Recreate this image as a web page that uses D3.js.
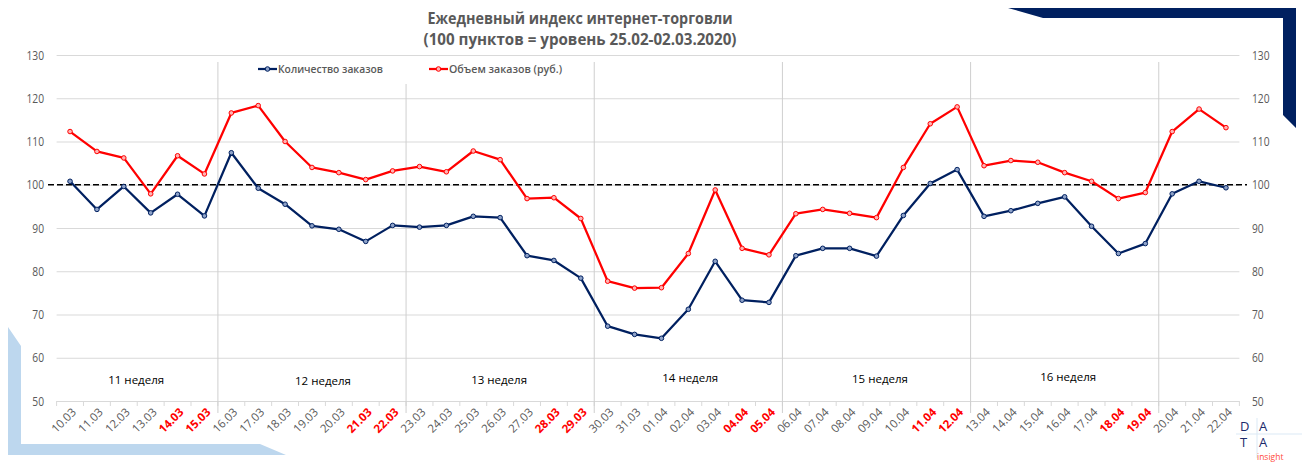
<!DOCTYPE html>
<html><head><meta charset="utf-8">
<script src="https://cdn.jsdelivr.net/npm/d3@7"></script>
<style>
body{margin:0;background:#fff}
svg text{font-family:'Open Sans','Noto Sans',sans-serif}
</style>
</head><body>
<svg id="c" width="1302" height="465"></svg>
<script>
// ---------- data ----------
const dates = ["10.03","11.03","12.03","13.03","14.03","15.03","16.03","17.03","18.03","19.03","20.03",
  "21.03","22.03","23.03","24.03","25.03","26.03","27.03","28.03","29.03","30.03","31.03",
  "01.04","02.04","03.04","04.04","05.04","06.04","07.04","08.04","09.04","10.04","11.04",
  "12.04","13.04","14.04","15.04","16.04","17.04","18.04","19.04","20.04","21.04","22.04"];
const orders = [100.8,94.3,99.6,93.5,97.8,92.8,107.4,99.2,95.5,90.5,89.7,86.9,90.6,90.2,90.6,
  92.7,92.4,83.6,82.5,78.4,67.3,65.4,64.5,71.2,82.3,73.3,72.8,83.6,85.3,85.3,
  83.5,92.9,100.3,103.5,92.7,94.0,95.7,97.2,90.4,84.1,86.4,97.9,100.8,99.3];
const volume = [112.3,107.7,106.2,97.9,106.7,102.5,116.6,118.3,110.0,104.0,102.8,101.2,103.2,104.2,103.0,
  107.8,105.8,96.8,97.0,92.2,77.7,76.1,76.2,84.1,98.8,85.3,83.8,93.3,94.3,93.4,
  92.4,104.0,114.1,118.0,104.4,105.6,105.2,102.8,100.8,96.8,98.2,112.3,117.5,113.2];
const yTicks = [50,60,70,80,90,100,110,120,130];
const weekendDates = ["14.03","15.03","21.03","22.03","28.03","29.03","04.04","05.04","11.04","12.04","18.04","19.04"];
const weekStartDates = ["16.03","23.03","30.03","06.04","13.04","20.04"];
const weekLabels = ["11 неделя","12 неделя","13 неделя","14 неделя","15 неделя","16 неделя"];
const weekLabelAt = [2.46, 9.41, 15.96, 23.07, 30.13, 37.13];   // position along the day axis
const weekLabelLevel = [54.8, 54.6, 54.8, 55.3, 55.0, 55.5];     // position on the value axis
const baselineValue = 100;
const titleLines = ["Ежедневный индекс интернет-торговли","(100 пунктов = уровень 25.02-02.03.2020)"];
const seriesNames = ["Количество заказов","Объем заказов (руб.)"];

// ---------- setup ----------
const svg = d3.select("#c");
const plot = {left:56.6, right:1239.4, top:55, bottom:401};
const x = d3.scaleBand().domain(dates).range([plot.left, plot.right]).paddingInner(0).paddingOuter(0);
const bw = x.bandwidth();
const xc = d => x(d) + bw/2;
const xi = d3.scaleLinear().domain([0, dates.length-1]).range([xc(dates[0]), xc(dates[dates.length-1])]);
const y = d3.scaleLinear().domain([50,130]).range([plot.bottom, plot.top]);
const GRAY = "#595959", NAVY = "#002060", RED = "#ff0000", GRID = "#d9d9d9";

function condense(sel, f){ sel.each(function(){ const L=this.getComputedTextLength(); d3.select(this).attr("textLength", L*f).attr("lengthAdjust","spacingAndGlyphs"); }); }

// decorations
svg.append("polygon").attr("points","1008,8 1296,8 1296,128 1283,115 1283,18 1043,18").attr("fill","#002060");
svg.append("polygon").attr("points","8,327 21,346 21,444 260,444 286,455 8,455").attr("fill","#bdd7ee");

// horizontal gridlines
svg.append("g").attr("transform",`translate(${plot.left},0)`)
  .call(d3.axisLeft(y).tickValues(yTicks).tickSize(-(plot.right-plot.left)).tickFormat(""))
  .call(g=>g.select(".domain").remove())
  .call(g=>g.selectAll("line").attr("stroke",GRID).attr("stroke-width",1));

// bottom boundary tick marks
const bounds = d3.range(dates.length+1).map(i => plot.left + i*bw);
svg.append("g").selectAll("line").data(bounds).join("line")
  .attr("x1",d=>d).attr("x2",d=>d).attr("y1",plot.bottom).attr("y2",plot.bottom+5)
  .attr("stroke",GRID);

// week separators
svg.append("g").selectAll("line").data(weekStartDates).join("line")
  .attr("x1",d=>x(d)).attr("x2",d=>x(d)).attr("y1",62).attr("y2",plot.bottom+12)
  .attr("stroke","#cfcfcf").attr("stroke-width",1);

// y axis labels
const yl = svg.append("g").attr("transform",`translate(${plot.left},0)`)
  .call(d3.axisLeft(y).tickValues(yTicks).tickSize(0).tickPadding(12.6))
  .call(g=>g.select(".domain").remove());
yl.selectAll("text").attr("fill",GRAY).attr("font-size",12.5).attr("font-family","'Open Sans',sans-serif");
condense(yl.selectAll("text"),0.82);
const yr = svg.append("g").attr("transform",`translate(${plot.right},0)`)
  .call(d3.axisRight(y).tickValues(yTicks).tickSize(0).tickPadding(12.6))
  .call(g=>g.select(".domain").remove());
yr.selectAll("text").attr("fill",GRAY).attr("font-size",12.5).attr("font-family","'Open Sans',sans-serif");
condense(yr.selectAll("text"),0.82);

// x labels
const xa = svg.append("g").attr("transform",`translate(0,${plot.bottom})`)
  .call(d3.axisBottom(x).tickSize(0).tickPadding(0))
  .call(g=>g.select(".domain").remove());
xa.selectAll(".tick text")
  .attr("font-family","'Open Sans',sans-serif")
  .attr("font-size",11.5)
  .attr("text-anchor","end")
  .attr("dy","0.35em")
  .attr("transform","translate(4,9) rotate(-45)")
  .attr("fill",d=>weekendDates.includes(d)?RED:GRAY)
  .attr("font-weight",d=>weekendDates.includes(d)?"bold":"normal");

// baseline 100
svg.append("line").attr("x1",48).attr("x2",1247).attr("y1",y(baselineValue)).attr("y2",y(baselineValue))
  .attr("stroke","#000").attr("stroke-width",1.3).attr("stroke-dasharray","6,3");

// week labels
svg.append("g").selectAll("text").data(weekLabels).join("text")
  .attr("x",(d,i)=>xi(weekLabelAt[i])).attr("y",(d,i)=>y(weekLabelLevel[i]))
  .attr("dy","0.35em").attr("text-anchor","middle").attr("font-size",11.5).attr("fill","#000").text(d=>d);

// series
const series = [{name:seriesNames[0], values:orders, color:NAVY},{name:seriesNames[1], values:volume, color:RED}];
const line = d3.line().x((v,i)=>xc(dates[i])).y(v=>y(v));
series.forEach(s=>{
  svg.append("path").datum(s.values).attr("d",line).attr("fill","none")
    .attr("stroke",s.color).attr("stroke-width",2.25).attr("stroke-linejoin","round");
  svg.append("g").selectAll("circle").data(s.values).join("circle")
    .attr("cx",(v,i)=>xc(dates[i])).attr("cy",v=>y(v)).attr("r",2.3)
    .attr("fill", s.color===RED ? "#ffb3b3" : "#8ea2c8").attr("stroke",s.color).attr("stroke-width",1);
});

// legend
const lg = svg.append("g");
lg.append("rect").attr("x",250).attr("y",60).attr("width",328).attr("height",24).attr("fill","#fff");
const legendX = [258, 429], legendW = [105, 113];
series.forEach((s,i)=>{
  const g = lg.append("g").attr("transform",`translate(${legendX[i]},69)`);
  g.append("line").attr("x1",0).attr("x2",19).attr("stroke",s.color).attr("stroke-width",2.25);
  g.append("circle").attr("cx",9.5).attr("r",2.3).attr("fill", s.color===RED ? "#ffb3b3" : "#8ea2c8").attr("stroke",s.color);
  g.append("text").attr("x",20).attr("dy","0.35em").attr("font-size",11).attr("font-weight",600)
    .attr("fill",GRAY).text(s.name).attr("textLength",legendW[i]).attr("lengthAdjust","spacingAndGlyphs");
});

// title
const titleW = [305, 313], titleY = [24, 45];
svg.append("g").selectAll("text").data(titleLines).join("text")
  .attr("x",580).attr("y",(d,i)=>titleY[i]).attr("text-anchor","middle")
  .attr("font-size",16.5).attr("font-weight","bold").attr("fill",GRAY)
  .attr("textLength",(d,i)=>titleW[i]).attr("lengthAdjust","spacingAndGlyphs").text(d=>d);

// logo
const logo = svg.append("g");
logo.append("line").attr("x1",1236).attr("x2",1302).attr("y1",434).attr("y2",434).attr("stroke","#dbe9f5");
logo.append("line").attr("x1",1257).attr("x2",1257).attr("y1",418).attr("y2",458).attr("stroke","#dbe9f5");
[["D",1240,431],["A",1259,431],["T",1240,447],["A",1259,447]].forEach(([t,lx,ly])=>{
  logo.append("text").attr("x",lx).attr("y",ly).attr("font-family","Lato,sans-serif").attr("font-weight",400)
    .attr("font-size",13).attr("fill","#1b2a6b").text(t);
});
logo.append("text").attr("x",1257).attr("y",459.5).attr("font-size",8.5).attr("fill","#ff4a3d").text("insight");
</script>
</body></html>
